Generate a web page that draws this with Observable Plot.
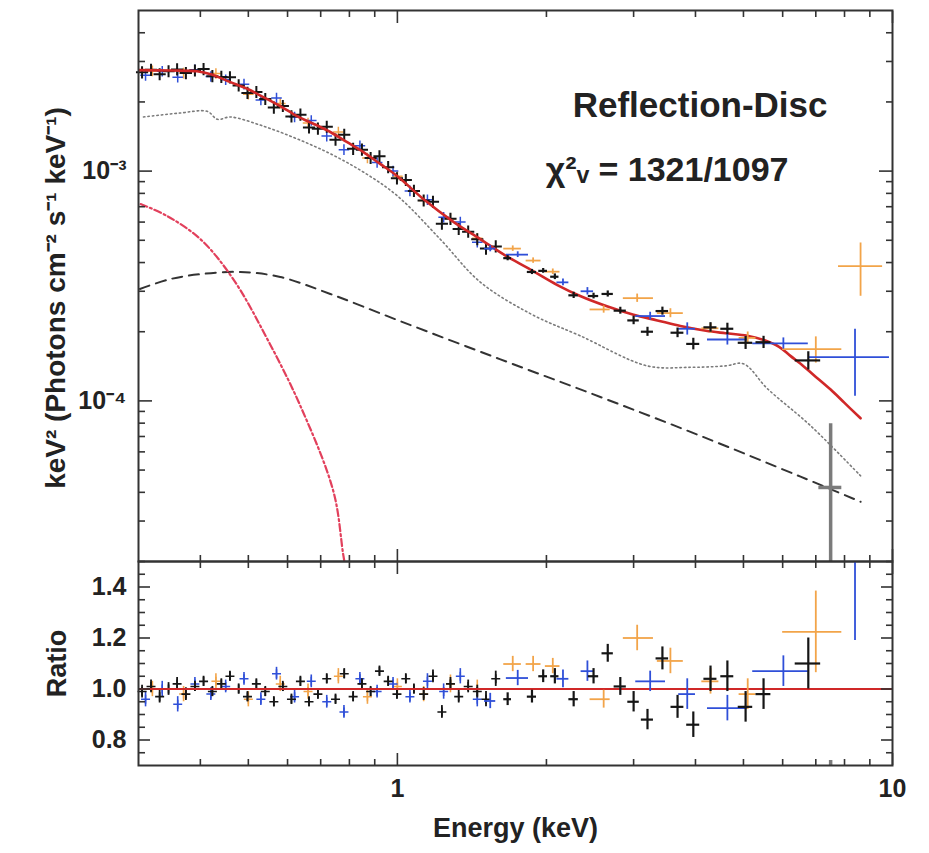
<!DOCTYPE html>
<html><head><meta charset="utf-8">
<script src="https://cdn.jsdelivr.net/npm/d3@7"></script>
<script src="https://cdn.jsdelivr.net/npm/@observablehq/plot@0.6"></script>
<style>
body{margin:0;background:#fff;}
#wrap{position:relative;width:929px;height:853px;}
#top,#bot{position:absolute;left:0;}
#top{top:0}
#bot{top:551px}
</style></head><body><div id="wrap"><div id="top"></div><div id="bot"></div></div>
<script>
// ---------- axes / ticks ----------
const xMajor = [1, 10];
const xMajorLabels = ["1", "10"];
const xMinor = [0.4, 0.5, 0.6, 0.7, 0.8, 0.9, 2, 3, 4, 5, 6, 7, 8, 9];
const yTopMajor = [1e-4, 1e-3];
const yTopLabels = ["10⁻⁴", "10⁻³"];
const yTopMinor = [2e-5, 3e-5, 4e-5, 5e-5, 6e-5, 7e-5, 8e-5, 9e-5, 2e-4, 3e-4, 4e-4, 5e-4, 6e-4, 7e-4, 8e-4, 9e-4, 2e-3, 3e-3, 4e-3];
const yRatioMajor = [0.8, 1.0, 1.2, 1.4];
const yRatioLabels = ["0.8", "1.0", "1.2", "1.4"];
const yRatioMinor = [0.75, 0.85, 0.9, 0.95, 1.05, 1.1, 1.15, 1.25, 1.3, 1.35, 1.45];

// ---------- model components (E in keV, keV^2 F) ----------
const totE = [0.30, 0.35, 0.394, 0.42, 0.46, 0.50, 0.536, 0.58, 0.628, 0.68, 0.732, 0.79, 0.854, 0.92, 1.0, 1.128, 1.3, 1.47, 1.65, 1.88, 2.1, 2.34, 2.65, 3.0, 3.35, 3.73, 4.2, 4.6, 5.09, 5.5, 5.9, 6.22, 6.6, 6.92, 7.5, 8.0, 8.62];
const totF = [2.75e-3, 2.74e-3, 2.72e-3, 2.64e-3, 2.44e-3, 2.27e-3, 2.10e-3, 1.92e-3, 1.73e-3, 1.60e-3, 1.48e-3, 1.34e-3, 1.21e-3, 1.08e-3, 9.5e-4, 7.56e-4, 6.0e-4, 5.06e-4, 4.3e-4, 3.67e-4, 3.2e-4, 2.86e-4, 2.58e-4, 2.37e-4, 2.24e-4, 2.12e-4, 2.02e-4, 1.97e-4, 1.92e-4, 1.84e-4, 1.72e-4, 1.57e-4, 1.42e-4, 1.30e-4, 1.12e-4, 0.98e-4, 0.84e-4];
const refE = [0.307, 0.364, 0.413, 0.433, 0.46, 0.536, 0.628, 0.732, 0.854, 1.0, 1.22, 1.47, 1.86, 2.34, 3.2, 3.91, 4.6, 5.0, 5.59, 6.83, 8.62];
const refF = [1.72e-3, 1.79e-3, 1.82e-3, 1.68e-3, 1.72e-3, 1.57e-3, 1.38e-3, 1.19e-3, 9.9e-4, 7.8e-4, 5.06e-4, 3.29e-4, 2.39e-4, 1.92e-4, 1.42e-4, 1.40e-4, 1.42e-4, 1.45e-4, 1.13e-4, 7.8e-5, 4.72e-5];
const plE = [0.302, 0.348, 0.40, 0.482, 0.58, 0.732, 1.01, 1.61, 2.57, 4.09, 6.52, 8.62];
const plF = [3.07e-4, 3.39e-4, 3.56e-4, 3.64e-4, 3.46e-4, 2.92e-4, 2.23e-4, 1.52e-4, 1.04e-4, 7.05e-5, 4.68e-5, 3.64e-5];
const bbE = [0.303, 0.343, 0.40, 0.466, 0.546, 0.637, 0.743, 0.778, 0.80];
const bbF = [7.19e-4, 6.37e-4, 5.06e-4, 3.39e-4, 1.86e-4, 9.5e-5, 4.02e-5, 2.12e-5, 1.5e-5];

// ---------- dense low-energy data ----------
const blkE = [0.305, 0.318, 0.331, 0.345, 0.359, 0.374, 0.390, 0.406, 0.423, 0.441, 0.459, 0.478, 0.498, 0.519, 0.541, 0.563, 0.587, 0.611, 0.637, 0.663, 0.691, 0.720, 0.750, 0.781, 0.814, 0.848, 0.883, 0.920, 0.958, 0.998, 1.04, 1.08, 1.13, 1.18, 1.23, 1.28, 1.33, 1.39, 1.45, 1.51, 1.58];
const blkF = [2.69e-3, 2.76e-3, 2.64e-3, 2.72e-3, 2.77e-3, 2.67e-3, 2.74e-3, 2.78e-3, 2.59e-3, 2.57e-3, 2.56e-3, 2.36e-3, 2.19e-3, 2.21e-3, 2.06e-3, 1.89e-3, 1.92e-3, 1.73e-3, 1.76e-3, 1.55e-3, 1.53e-3, 1.56e-3, 1.37e-3, 1.44e-3, 1.25e-3, 1.24e-3, 1.14e-3, 1.16e-3, 1.04e-3, 9.3e-4, 9.15e-4, 8.2e-4, 7.45e-4, 7.35e-4, 5.9e-4, 6.2e-4, 5.6e-4, 5.45e-4, 5.05e-4, 4.6e-4, 4.7e-4];
const blkR = [0.99, 1.01, 0.97, 1.00, 1.02, 0.98, 1.01, 1.03, 0.99, 1.02, 1.05, 1.00, 0.97, 1.02, 0.99, 0.95, 1.01, 0.96, 1.03, 0.95, 0.98, 1.04, 0.96, 1.06, 0.97, 1.02, 0.99, 1.07, 1.03, 0.98, 1.04, 1.00, 0.98, 1.05, 0.91, 1.02, 0.97, 1.01, 0.99, 0.96, 1.04];
const blkRErr = [0.025, 0.025, 0.025, 0.025, 0.025, 0.025, 0.02, 0.02, 0.02, 0.02, 0.02, 0.02, 0.02, 0.02, 0.02, 0.02, 0.02, 0.02, 0.02, 0.02, 0.02, 0.02, 0.02, 0.02, 0.02, 0.02, 0.02, 0.02, 0.02, 0.02, 0.02, 0.02, 0.025, 0.025, 0.025, 0.025, 0.025, 0.025, 0.025, 0.03, 0.03];
const bluE = [0.31, 0.335, 0.36, 0.39, 0.42, 0.45, 0.49, 0.53, 0.57, 0.62, 0.67, 0.72, 0.78, 0.84, 0.91, 0.98, 1.06, 1.15, 1.24, 1.34, 1.45];
const bluF = [2.61e-3, 2.72e-3, 2.56e-3, 2.76e-3, 2.58e-3, 2.50e-3, 2.39e-3, 2.04e-3, 2.08e-3, 1.72e-3, 1.66e-3, 1.42e-3, 1.24e-3, 1.29e-3, 1.09e-3, 1.00e-3, 8.2e-4, 7.5e-4, 6.3e-4, 6.0e-4, 4.9e-4];
const bluR = [0.96, 1.00, 0.94, 1.02, 0.98, 1.01, 1.04, 0.96, 1.06, 0.97, 1.03, 0.95, 0.91, 1.04, 0.99, 1.02, 0.97, 1.03, 0.99, 1.05, 0.96];
const bluRErr = [0.03, 0.03, 0.03, 0.025, 0.025, 0.025, 0.025, 0.025, 0.025, 0.025, 0.025, 0.025, 0.025, 0.025, 0.025, 0.025, 0.025, 0.03, 0.03, 0.03, 0.03];
const orgE = [0.32, 0.37, 0.43, 0.50, 0.58, 0.66, 0.76, 0.87, 1.00, 1.13, 1.28, 1.45];
const orgF = [2.73e-3, 2.67e-3, 2.66e-3, 2.16e-3, 1.97e-3, 1.62e-3, 1.48e-3, 1.14e-3, 9.5e-4, 7.45e-4, 6.2e-4, 5.1e-4];
const orgR = [1.00, 0.98, 1.03, 0.96, 1.02, 0.99, 1.05, 0.97, 1.01, 0.98, 1.02, 1.00];
const orgRErr = [0.03, 0.03, 0.03, 0.03, 0.03, 0.03, 0.03, 0.03, 0.03, 0.03, 0.035, 0.035];

// ---------- binned high-energy data ----------
const hbE  = [1.67, 1.87, 1.97, 2.08, 2.27, 2.49, 2.66, 2.82, 3.00, 3.20, 3.43, 3.68, 3.96, 4.29, 4.64, 5.05, 5.49, 6.76, 7.50];
const hbLo = [1.64, 1.83, 1.93, 2.04, 2.22, 2.43, 2.59, 2.74, 2.92, 3.11, 3.33, 3.57, 3.84, 4.16, 4.50, 4.88, 5.30, 6.36, 7.10];
const hbHi = [1.70, 1.91, 2.01, 2.12, 2.32, 2.55, 2.73, 2.90, 3.08, 3.29, 3.53, 3.79, 4.08, 4.42, 4.78, 5.22, 5.68, 7.16, 7.90];
const hbF  = [4.18e-4, 3.64e-4, 3.68e-4, 3.47e-4, 2.88e-4, 2.86e-4, 2.92e-4, 2.47e-4, 2.24e-4, 2.0e-4, 2.46e-4, 1.98e-4, 1.77e-4, 2.09e-4, 2.06e-4, 1.79e-4, 1.80e-4, 1.50e-4, 0.42e-4];
const hbR  = [0.96, 0.97, 1.05, 1.05, 0.96, 1.05, 1.14, 1.01, 0.95, 0.88, 1.12, 0.93, 0.86, 1.04, 1.05, 0.93, 0.98, 1.10, 0.38];
const hbRErr = [0.025, 0.025, 0.025, 0.03, 0.03, 0.03, 0.035, 0.035, 0.04, 0.04, 0.045, 0.045, 0.05, 0.05, 0.06, 0.06, 0.06, 0.10, 0.34];

const hlE  = [1.54, 1.75, 2.16, 2.42, 3.24, 3.85, 4.64, 6.02, 8.40];
const hlLo = [1.50, 1.66, 2.10, 2.35, 3.03, 3.70, 4.23, 5.22, 6.78];
const hlHi = [1.58, 1.84, 2.22, 2.49, 3.48, 4.00, 5.09, 6.76, 9.86];
const hlF  = [4.6e-4, 4.33e-4, 3.28e-4, 3.0e-4, 2.34e-4, 2.06e-4, 1.85e-4, 1.78e-4, 1.55e-4];
const hlR  = [0.953, 1.043, 1.04, 1.07, 1.03, 0.98, 0.925, 1.07, 1.76];
const hlRErr = [0.03, 0.03, 0.035, 0.04, 0.04, 0.06, 0.05, 0.06, 0.57];

const hoE  = [1.71, 1.88, 2.06, 2.61, 3.05, 3.56, 4.29, 5.10, 7.00, 8.62];
const hoLo = [1.64, 1.82, 1.99, 2.45, 2.86, 3.35, 4.12, 4.90, 6.00, 7.78];
const hoHi = [1.78, 1.95, 2.13, 2.69, 3.29, 3.78, 4.46, 5.30, 7.90, 9.55];
const hoF  = [4.6e-4, 4.08e-4, 3.65e-4, 2.5e-4, 2.8e-4, 2.41e-4, 2.07e-4, 1.88e-4, 1.68e-4, 3.86e-4];
const hoR  = [1.098, 1.098, 1.09, 0.96, 1.20, 1.11, 1.03, 0.98, 1.224, 4.6];
const hoRErr = [0.03, 0.03, 0.03, 0.035, 0.05, 0.05, 0.05, 0.06, 0.16, 1.2];

const modelRatio = [1];

// ---------- styling ----------
const C = {black: "#151515", blue: "#2f4fd8", orange: "#f2a449", red: "#d02828", dd: "#e2405c", gray: "#7b7b7b"};
const FONT = "'Liberation Sans', Arial, Helvetica, sans-serif";
const X = {type: "log", domain: [0.3, 10]};

// ---------- build rows ----------
const line = (E, F) => E.map((e, i) => ({e, f: F[i]}));
const dense = (E, F, R, RE) => E.map((e, i) => ({e, f: F[i], r: R[i], re: RE[i]}));
const binned = (E, Lo, Hi, F, R, RE) => E.map((e, i) => ({e, lo: Lo[i], hi: Hi[i], f: F[i], r: R[i], re: RE[i],
  fLo: F[i] * (1 - RE[i] / R[i]), fHi: F[i] * (1 + RE[i] / R[i])}));

const tot = line(totE, totF), refl = line(refE, refF), pl = line(plE, plF), bb = line(bbE, bbF);
const dBlk = dense(blkE, blkF, blkR, blkRErr), dBlu = dense(bluE, bluF, bluR, bluRErr), dOrg = dense(orgE, orgF, orgR, orgRErr);
const hBlk = binned(hbE, hbLo, hbHi, hbF, hbR, hbRErr);
const hBlu = binned(hlE, hlLo, hlHi, hlF, hlR, hlRErr);
const hOrg = binned(hoE, hoLo, hoHi, hoF, hoR, hoRErr);

const none = () => "";
const TK = {stroke: "#333", strokeWidth: 1.6, tickFormat: none, label: null};
function frameTicks(yMaj, yMin, yMajLen, yMinLen) {
  return [
    Plot.axisX(xMajor, {...TK, anchor: "bottom", tickSize: -12}),
    Plot.axisX(xMajor, {...TK, anchor: "top", tickSize: -12}),
    Plot.axisX(xMinor, {...TK, anchor: "bottom", tickSize: -6}),
    Plot.axisX(xMinor, {...TK, anchor: "top", tickSize: -6}),
    Plot.axisY(yMaj, {...TK, anchor: "left", tickSize: -yMajLen}),
    Plot.axisY(yMaj, {...TK, anchor: "right", tickSize: -yMajLen}),
    Plot.axisY(yMin, {...TK, anchor: "left", tickSize: -yMinLen}),
    Plot.axisY(yMin, {...TK, anchor: "right", tickSize: -yMinLen})
  ];
}
function crosses(rows, color, yKey, loKey, hiKey, w) {
  return [
    Plot.ruleY(rows, {y: yKey, x1: "lo", x2: "hi", stroke: color, strokeWidth: w, clip: true}),
    Plot.ruleX(rows, {x: "e", y1: loKey, y2: hiKey, stroke: color, strokeWidth: w, clip: true})
  ];
}
const lookup = (ticks, labels) => d => {
  const k = ticks.findIndex(t => Math.abs(t - d) <= Math.abs(t) * 1e-6);
  return k < 0 ? "" : labels[k];
};

const styleStr = `font-family:${FONT};font-size:25px;font-weight:bold;background:transparent;overflow:visible;color:#222;`;

// ---------- top panel ----------
const topPlot = Plot.plot({
  width: 929, height: 600,
  marginLeft: 138, marginRight: 37, marginTop: 10, marginBottom: 39,
  style: styleStr,
  x: X,
  y: {type: "log", domain: [2e-5, 5e-3]},
  marks: [
    Plot.line(pl, {x: "e", y: "f", stroke: "#333", strokeWidth: 2, strokeDasharray: "10,7", curve: "catmull-rom", clip: true}),
    Plot.line(refl, {x: "e", y: "f", stroke: C.gray, strokeWidth: 1.6, strokeDasharray: "1.5,3", curve: "catmull-rom", clip: true}),
    Plot.line(bb, {x: "e", y: "f", stroke: C.dd, strokeWidth: 2.2, strokeDasharray: "7,3,2,3", curve: "catmull-rom", clip: true}),
    Plot.dot(dOrg, {x: "e", y: "f", symbol: "plus", r: 3.5, stroke: C.orange, strokeWidth: 1.5}),
    Plot.dot(dBlu, {x: "e", y: "f", symbol: "plus", r: 3.5, stroke: C.blue, strokeWidth: 1.5}),
    Plot.dot(dBlk, {x: "e", y: "f", symbol: "plus", r: 4, stroke: C.black, strokeWidth: 2}),
    Plot.line(tot, {x: "e", y: "f", stroke: C.red, strokeWidth: 2.6, curve: "catmull-rom", clip: true}),
    ...crosses(hOrg, C.orange, "f", "fLo", "fHi", 1.8),
    ...crosses(hBlu, C.blue, "f", "fLo", "fHi", 1.8),
    ...crosses(hBlk.slice(0, -1), C.black, "f", "fLo", "fHi", 2.2),
    ...crosses(hBlk.slice(-1), C.gray, "f", "fLo", "fHi", 3.5),
    Plot.frame({stroke: "#333", strokeWidth: 2}),
    ...frameTicks(yTopMajor, yTopMinor, 14, 7),
    Plot.axisY(yTopMajor, {anchor: "left", tickSize: 0, tickPadding: 12, tickFormat: lookup(yTopMajor, yTopLabels), label: null, fill: "#222"}),
    Plot.text(["keV² (Photons cm⁻² s⁻¹ keV⁻¹)"], {frameAnchor: "left", textAnchor: "middle", lineAnchor: "middle", dx: -82, dy: 12, rotate: -90, fontSize: 28, fontWeight: "bold", fill: "#222"}),
    Plot.text(["Reflection-Disc"], {frameAnchor: "top-right", textAnchor: "end", lineAnchor: "middle", dx: -65, dy: 95, fontSize: 35, fontWeight: "bold", fill: "#222"}),
    Plot.text(["χ²ᵥ = 1321/1097"], {frameAnchor: "top-right", textAnchor: "end", lineAnchor: "middle", dx: -104, dy: 160, fontSize: 34, fontWeight: "bold", fill: "#222"})
  ]
});
document.getElementById("top").append(topPlot);

// ---------- ratio panel ----------
const botPlot = Plot.plot({
  width: 929, height: 302,
  marginLeft: 138, marginRight: 37, marginTop: 10, marginBottom: 88,
  style: styleStr,
  x: X,
  y: {domain: [0.7, 1.5]},
  marks: [
    Plot.ruleX(dOrg, {x: "e", y1: d => d.r - d.re, y2: d => d.r + d.re, stroke: C.orange, strokeWidth: 1.6}),
    Plot.dot(dOrg, {x: "e", y: "r", symbol: "plus", r: 3, stroke: C.orange, strokeWidth: 1.5}),
    Plot.ruleX(dBlu, {x: "e", y1: d => d.r - d.re, y2: d => d.r + d.re, stroke: C.blue, strokeWidth: 1.6}),
    Plot.dot(dBlu, {x: "e", y: "r", symbol: "plus", r: 3, stroke: C.blue, strokeWidth: 1.5}),
    Plot.ruleX(dBlk, {x: "e", y1: d => d.r - d.re, y2: d => d.r + d.re, stroke: C.black, strokeWidth: 1.8}),
    Plot.dot(dBlk, {x: "e", y: "r", symbol: "plus", r: 3, stroke: C.black, strokeWidth: 1.6}),
    Plot.ruleY(modelRatio, {stroke: C.red, strokeWidth: 2}),
    ...crosses(hOrg, C.orange, "r", d => d.r - d.re, d => d.r + d.re, 1.8),
    ...crosses(hBlu, C.blue, "r", d => d.r - d.re, d => d.r + d.re, 1.8),
    ...crosses(hBlk.slice(0, -1), C.black, "r", d => d.r - d.re, d => d.r + d.re, 2.2),
    ...crosses(hBlk.slice(-1), C.gray, "r", d => d.r - d.re, d => d.r + d.re, 3.5),
    Plot.frame({stroke: "#333", strokeWidth: 2}),
    ...frameTicks(yRatioMajor, yRatioMinor, 12, 7),
    Plot.axisY(yRatioMajor, {anchor: "left", tickSize: 0, tickPadding: 12, tickFormat: lookup(yRatioMajor, yRatioLabels), label: null, fill: "#222"}),
    Plot.axisX(xMajor, {anchor: "bottom", tickSize: 0, tickPadding: 14, tickFormat: lookup(xMajor, xMajorLabels), label: null, fill: "#222"}),
    Plot.text(["Ratio"], {frameAnchor: "left", textAnchor: "middle", lineAnchor: "middle", dx: -81, rotate: -90, fontSize: 27, fontWeight: "bold", fill: "#222"}),
    Plot.text(["Energy (keV)"], {frameAnchor: "bottom", textAnchor: "middle", lineAnchor: "middle", dy: 63, fontSize: 27, fontWeight: "bold", fill: "#222"})
  ]
});
document.getElementById("bot").append(botPlot);
</script></body></html>
